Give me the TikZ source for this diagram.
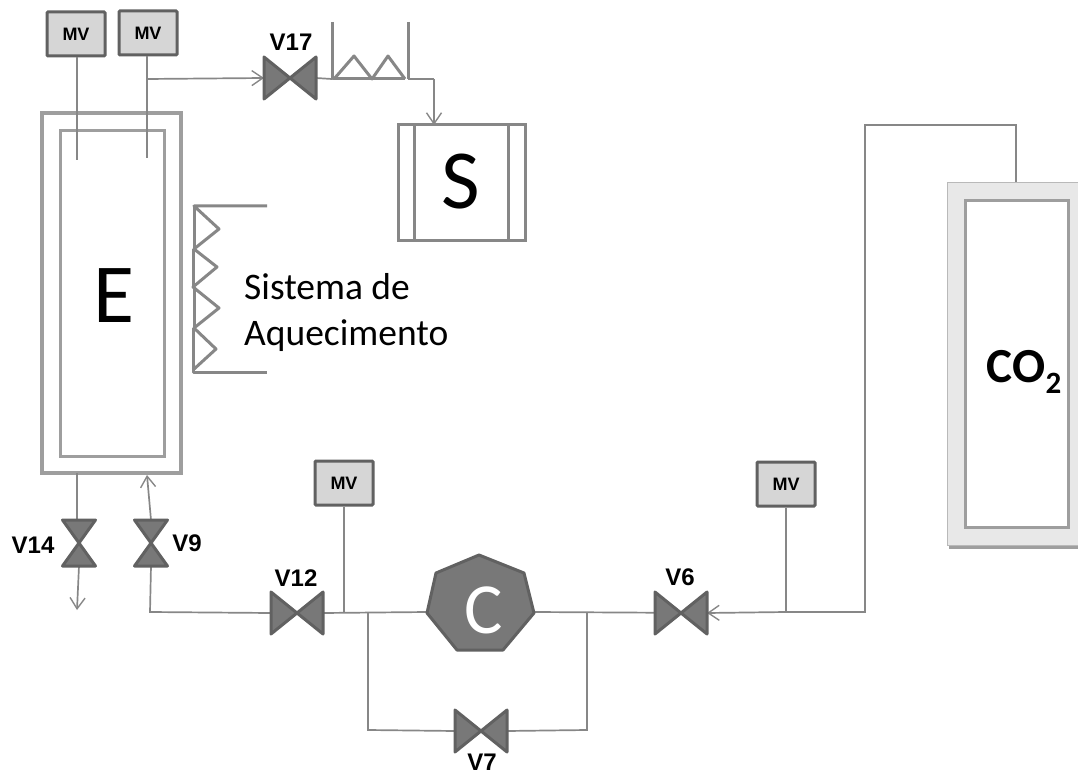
\documentclass[tikz,border=0pt]{standalone}
\usepackage{fontspec}
\setmainfont{Liberation Sans}
\newfontfamily\calib{Carlito}
\usetikzlibrary{arrows.meta}
\definecolor{ln}{gray}{0.53}
\definecolor{vesl}{gray}{0.62}
\definecolor{vfill}{gray}{0.47}
\definecolor{vdraw}{gray}{0.38}
\definecolor{mvfill}{gray}{0.84}
\tikzset{
 pipe/.style={draw=ln,line width=1.7pt},
 flow/.style={pipe,-{Straight Barb[length=11pt,width=15pt,line width=1.4pt]}},
 sketch/.style={draw=ln,line width=3pt,line join=round},
 vessel/.style={draw=vesl,line width=3.6pt},
 anchorbox/.style={inner sep=0pt,outer sep=0pt,minimum width=#1},
 hv/.style={anchorbox=52pt,minimum height=42pt},
 vv/.style={anchorbox=33pt,minimum height=46pt},
 mv/.style={draw=vdraw,fill=mvfill,line width=3pt,rounded corners=1pt,inner sep=0pt,minimum width=58pt,minimum height=44pt,font=\fontsize{18}{20}\selectfont\bfseries},
 vlabel/.style={inner sep=0pt,font=\fontsize{24}{28}\selectfont\bfseries},
}
\newcommand{\bowh}[1]{\draw[draw=vdraw,fill=vfill,line width=3pt,line join=round] (#1.north west)--(#1.south east)--(#1.north east)--(#1.south west)--cycle;}
\newcommand{\bowv}[1]{\draw[draw=vdraw,fill=vfill,line width=3pt,line join=round] (#1.north west)--(#1.south east)--(#1.south west)--(#1.north east)--cycle;}
\begin{document}
\begin{tikzpicture}[x=1pt,y=-1pt]
\useasboundingbox (0,0) rectangle (1078,775);
% vessel E
\node[vessel,outer sep=0pt,anchor=north west,inner sep=0pt,minimum width=139pt,minimum height=360pt] (eo) at (42,113) {};
\node[vessel,outer sep=0pt,line width=3pt,anchor=north west,inner sep=0pt,minimum width=104pt,minimum height=325pt] (ei) at (60,131) {};
\node[inner sep=0pt] (elabel) at (114,296) {\calib\fontsize{84}{90}\selectfont E};
% MV boxes
\node[mv] (mv1) at (76,34) {MV};
\node[mv] (mv2) at (148,33) {MV};
\node[mv] (mv3) at (344,483) {MV};
\node[mv] (mv4) at (786,484) {MV};
% valves
\node[hv] (v17) at (290,78) {};
\node[hv] (v12) at (297,613) {};
\node[hv] (v7) at (481,731) {};
\node[hv] (v6) at (681,613) {};
\node[vv] (v14) at (79,543) {};
\node[vv] (v9) at (151,543) {};
\node[vlabel] at (291,42) {V17};
\node[vlabel] at (296,578) {V12};
\node[vlabel] at (482,762) {V7};
\node[vlabel] at (680,577) {V6};
\node[vlabel] at (33,545) {V14};
\node[vlabel] at (187,543) {V9};
% junction coordinates
\coordinate (je1) at (77,160);
\coordinate (je2) at (147,158);
\coordinate (j17) at (147,79);
\coordinate (tl) at (332,79);
\coordinate (tr) at (408,79);
\coordinate (tlt) at (332,22);
\coordinate (trt) at (408,22);
\coordinate (bend) at (434,79);
\coordinate (c1) at (150,612);
\coordinate (j3) at (344,612);
\coordinate (j4) at (368,612);
\coordinate (j5) at (587,612);
\coordinate (j6) at (786,612);
\coordinate (j7) at (865,612);
\coordinate (j8) at (865,125);
\coordinate (j9) at (1016,125);
\coordinate (b7l) at (368,730);
\coordinate (b7r) at (587,730);
\coordinate (out14) at (77,610);
% pipes under valves
\draw[pipe] (mv1.south -| je1) -- (je1);
\draw[pipe] (mv2.south -| je2) -- (je2);
\draw[flow] (j17) -- (v17.west);
\draw[pipe] (v17.east) -- (tl);
\draw[pipe] (tr) -- (bend);
\draw[pipe] (mv3.south) -- (j3);
\draw[pipe] (mv4.south) -- (j6);
\draw[pipe] (eo.south -| je1) -- (v14.north -| je1);
\draw[flow] (v14.south) -- (out14);
\draw[flow] (v9.north) -- (147,475);
\draw[pipe] (v9.south) -- (c1) -- (v12.west);
\draw[pipe] (v12.east) -- (427,612);
\draw[pipe] (j4) -- (b7l) -- (v7.west);
\draw[pipe] (v7.east) -- (b7r) -- (j5);
\draw[pipe] (534,612) -- (v6.east);
\draw[flow] (j6) -- (v6.east);
\draw[pipe] (j6) -- (j7) -- (j8) -- (j9) -- (1016,183);
\bowh{v17}\bowh{v12}\bowh{v7}\bowh{v6}\bowv{v14}\bowv{v9}
% trap
\draw[sketch] (tlt) -- (tl) -- (405,79);
\draw[sketch] (trt) -- (tr);
\draw[sketch] (334,79) -- (354,56) -- (372,79) -- (388,56) -- (405,79);
% S
\node[draw=ln,line width=3pt,outer sep=0pt,inner sep=0pt,anchor=north west,minimum width=127pt,minimum height=116pt] (s) at (398,125) {};
\draw[draw=ln,line width=3pt] (414,125) -- (414,241);
\draw[draw=ln,line width=3pt] (508,125) -- (508,241);
\node[inner sep=0pt] (slabel) at (461,182) {\calib\fontsize{84}{90}\selectfont S};
\draw[flow] (bend) -- (434,125);
% heater
\draw[sketch] (267,206) -- (194,206) -- (219,229) -- (194,249) -- (217,267) -- (193,287) -- (219,308) -- (194,328) -- (216,349) -- (193,370);
\draw[sketch] (194,206) -- (194,249);
\draw[sketch] (193,249) -- (193,287);
\draw[sketch] (194,287) -- (194,328);
\draw[sketch] (193,328) -- (193,372) -- (267,372);
\node[anchor=base west,inner sep=0pt] (h1) at (244,300) {\calib\fontsize{37.5}{42}\selectfont Sistema de};
\node[anchor=base west,inner sep=0pt] (h2) at (244,345) {\calib\fontsize{37.5}{42}\selectfont Aquecimento};
% compressor
\draw[draw=vdraw,fill=vfill,line width=3pt,line join=round] (479,555) -- (524,573) -- (534,613) -- (503,650) -- (457,650) -- (427,613) -- (436,573) -- cycle;
\node[inner sep=0pt,text=white] (clabel) at (484,610) {\calib\fontsize{72}{80}\selectfont C};
% CO2
\fill[gray!75] (949,546) rectangle (1078,549);
\path[fill=gray!18,draw=gray!55,line width=1pt] (1078,183) -- (947,183) -- (947,545) -- (1078,545);
\node[draw=vesl,fill=white,line width=3pt,outer sep=0pt,anchor=north west,inner sep=0pt,minimum width=103pt,minimum height=326pt] (co) at (965,201) {};
\node[inner sep=0pt] (colabel) at (1024,372) {\calib\bfseries\fontsize{49}{52}\selectfont CO\raisebox{-0.22em}{\fontsize{31}{33}\selectfont 2}};
\end{tikzpicture}
\end{document}
